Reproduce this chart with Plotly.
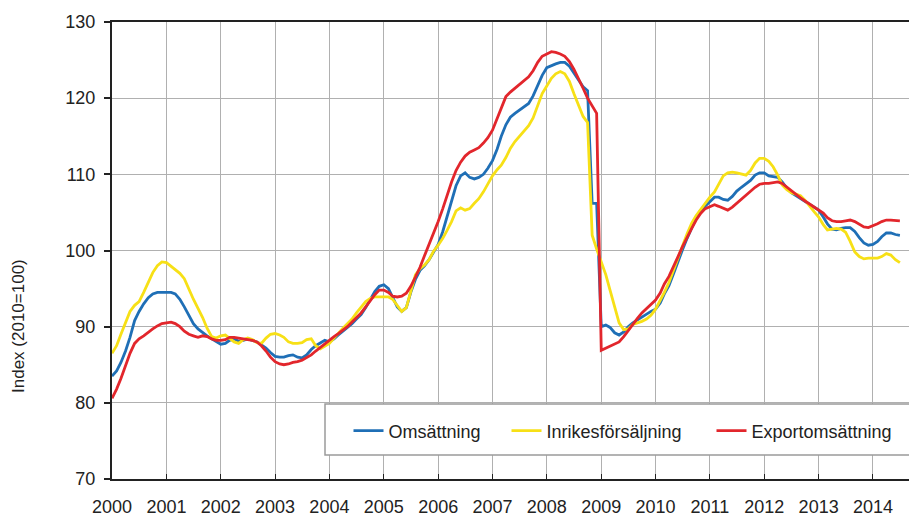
import pandas as pd
import plotly.graph_objects as go

months = pd.date_range("2000-01-01", periods=175, freq="MS")

omsattning = [
    83.5, 84.2, 85.3, 86.8, 88.6, 90.8, 92.0, 93.0, 93.8, 94.3, 94.5, 94.5,
    94.5, 94.5, 94.3, 93.6, 92.6, 91.4, 90.4, 89.7, 89.2, 88.8, 88.4, 88.0,
    87.7, 87.8, 88.2, 88.4, 88.1, 88.2, 88.4, 88.2, 88.0, 87.6, 87.2, 86.6,
    86.1, 86.0, 86.0, 86.2, 86.3, 86.0, 85.9, 86.3, 87.0, 87.5, 87.8, 88.2,
    88.0, 88.4, 88.9, 89.4, 89.9, 90.4, 91.0, 91.6, 92.5, 93.5, 94.6, 95.3,
    95.5, 95.0, 93.8, 92.6, 92.0, 92.5, 94.5, 96.2, 97.4, 98.0, 98.8, 99.7,
    100.8, 102.5, 104.5, 106.7, 108.5, 109.8, 110.2, 109.6, 109.4, 109.6, 110.0, 110.8,
    111.8, 113.3, 115.0, 116.5, 117.5, 118.0, 118.4, 118.8, 119.3, 120.3, 121.8, 123.0,
    124.0, 124.3, 124.5, 124.7, 124.7, 124.2, 123.3, 122.4, 121.5, 121.0, 106.2, 106.2,
    90.0, 90.2, 89.9, 89.2, 88.9, 89.3, 90.0, 90.5, 90.9, 91.2, 91.6, 92.0,
    92.3, 93.1, 94.3, 95.4, 96.9, 98.6, 100.1, 101.6, 103.0, 104.3, 105.3, 105.9,
    106.4, 107.0, 107.0, 106.7, 106.6, 107.1, 107.8, 108.3, 108.7, 109.2, 109.9, 110.2,
    110.2, 109.8, 109.7, 109.6, 109.0, 108.2, 107.6, 107.2, 106.9, 106.5, 106.1, 105.7,
    105.3, 104.4, 103.5, 102.8, 102.7, 102.9, 103.0, 103.0, 102.5, 101.7, 101.0, 100.7,
    100.8, 101.2, 101.8, 102.3, 102.3, 102.1, 102.0,
]

inrikes = [
    86.5, 87.5, 89.0, 90.6, 92.0, 92.8, 93.3, 94.5, 95.9, 97.1, 98.0, 98.5,
    98.4, 97.9, 97.5, 97.0, 96.3, 94.8, 93.6, 92.4, 91.2, 89.8, 88.7, 88.5,
    88.8, 88.9, 88.5, 88.0, 87.8, 88.3, 88.5, 88.3, 87.9, 87.8, 88.5, 89.0,
    89.1, 88.9, 88.6, 88.0, 87.8, 87.8, 87.9, 88.3, 88.4, 87.5, 87.1, 87.5,
    87.8, 88.5, 89.2, 89.8, 90.4, 91.0, 91.8, 92.6, 93.3, 93.7, 93.9, 93.9,
    93.9, 93.9, 93.6, 92.8, 92.0, 92.5, 94.8, 96.8, 97.6, 98.1, 98.8, 99.9,
    100.7, 101.6, 102.6, 103.8, 105.2, 105.6, 105.3, 105.5, 106.2, 106.8, 107.7, 108.8,
    109.8, 110.6, 111.2, 112.2, 113.4, 114.3, 115.0, 115.7, 116.4, 117.4, 118.9, 120.6,
    121.6, 122.6, 123.2, 123.5, 123.2, 122.2, 120.6, 119.0, 117.6, 116.8, 102.0, 100.2,
    98.6, 96.8, 94.8, 92.7, 90.5, 89.6, 89.7, 90.3, 90.5, 90.7, 91.0, 91.5,
    92.3, 93.4, 94.5, 95.8, 97.3, 99.0, 100.6, 102.2, 103.6, 104.6, 105.4, 106.3,
    107.0, 107.7, 108.8, 109.8, 110.2, 110.3, 110.2, 110.0, 109.9, 110.5, 111.5, 112.1,
    112.1, 111.7, 111.0, 109.9, 108.6, 108.0, 107.6, 107.4, 107.2, 106.6, 105.8, 105.1,
    104.4, 103.4, 102.7, 102.8, 102.9, 102.8, 102.4, 101.2, 99.8, 99.2, 98.9, 99.0,
    99.0, 99.0, 99.2, 99.6, 99.4, 98.8, 98.4,
]

export = [
    80.6, 81.8, 83.2, 84.8, 86.5, 87.8, 88.4, 88.8, 89.3, 89.7, 90.1, 90.4,
    90.5, 90.6, 90.4, 90.0, 89.4, 89.0, 88.8, 88.6, 88.8, 88.7, 88.4, 88.2,
    88.2, 88.3, 88.6, 88.6, 88.5, 88.4, 88.3, 88.2, 88.0, 87.5, 86.8, 86.0,
    85.4, 85.1, 85.0, 85.1, 85.3, 85.4, 85.6, 85.9, 86.3, 86.8, 87.3, 87.8,
    88.2, 88.7, 89.1, 89.5, 90.0, 90.6, 91.2, 91.8, 92.6, 93.4, 94.2, 94.8,
    94.8, 94.5, 94.0, 93.9, 94.0, 94.4, 95.3, 96.5, 97.8, 99.3, 100.8, 102.2,
    103.8, 105.5, 107.3, 109.0, 110.5, 111.6, 112.4, 112.9, 113.2, 113.5, 114.1, 114.8,
    115.8, 117.3, 118.8, 120.2, 120.8, 121.3, 121.7, 122.3, 122.8, 123.6, 124.7, 125.5,
    125.8, 126.1, 126.0, 125.8, 125.5, 124.8, 123.8, 122.6, 121.3, 120.0, 118.9, 118.0,
    86.9, 87.2, 87.5, 87.8, 88.0, 88.7, 89.5, 90.4, 91.1, 91.8, 92.4, 93.0,
    93.5, 94.4, 95.6, 96.6, 97.8, 99.2, 100.5, 101.8, 102.9, 104.0, 104.9, 105.5,
    105.8, 106.0, 105.8, 105.5, 105.3, 105.7, 106.2, 106.8, 107.3, 107.8, 108.3, 108.7,
    108.8, 108.8, 108.9, 109.0, 108.8, 108.3, 107.8, 107.3, 106.9, 106.5, 106.1, 105.8,
    105.4, 104.9, 104.3, 103.9, 103.8, 103.8, 103.9, 104.0, 103.8, 103.4, 103.1, 103.0,
    103.2, 103.5, 103.8, 104.0, 104.0, 103.9, 103.9,
]

series_names = ["Omsättning", "Inrikesförsäljning", "Exportomsättning"]
series_values = [omsattning, inrikes, export]
colors = ["#1f6fb6", "#f7e016", "#e2262c"]

year_ticks = [f"{y}-01-01" for y in range(2000, 2015)]
year_labels = [str(y) for y in range(2000, 2015)]

FONT = "Liberation Sans, Arial, sans-serif"

# page coordinates (body has an 8px margin); plot area spans x 112..917, y 22..479
PL, PR, PT, PB = 112, 917, 22, 479
PW, PH = PR - PL, PB - PT


def px(x):
    return (x - PL) / PW


def py(y):
    return (PB - y) / PH


legend_ids = ["legend", "legend2", "legend3"]
legend_left = [348.5, 506.5, 711.5]

fig = go.Figure()
for name, vals, col, lid in zip(series_names, series_values, colors, legend_ids):
    fig.add_trace(go.Scatter(x=months, y=vals, mode="lines", name=name, legend=lid,
                             line=dict(color=col, width=2.8)))

legend_common = dict(orientation="h", yanchor="middle", xanchor="left",
                     bgcolor="rgba(0,0,0,0)", borderwidth=0,
                     font=dict(family=FONT, size=18, color="#222222"))

fig.update_layout(
    width=909, height=508,
    margin=dict(l=PL - 8, r=0, t=PT - 8, b=508 - (PB - 8)),
    paper_bgcolor="white", plot_bgcolor="white",
    font=dict(family=FONT, size=18, color="#222222"),
    showlegend=True,
    legend=dict(x=px(legend_left[0]), y=py(431), **legend_common),
    legend2=dict(x=px(legend_left[1]), y=py(431), **legend_common),
    legend3=dict(x=px(legend_left[2]), y=py(431), **legend_common),
    xaxis=dict(type="date", range=["2000-01-01", "2014-10-24"],
               tickvals=year_ticks, ticktext=year_labels,
               ticks="inside", ticklen=5, tickwidth=1, tickcolor="#222222",
               showgrid=True, gridcolor="#b0b0b0", gridwidth=1.2,
               showline=True, linecolor="#222222", linewidth=2, mirror=True,
               zeroline=False, tickfont=dict(size=18), ticklabelstandoff=10),
    yaxis=dict(range=[70, 130], dtick=10, tick0=70,
               ticks="outside", ticklen=6, tickwidth=2, tickcolor="#222222",
               showgrid=True, gridcolor="#b0b0b0", gridwidth=1.2,
               showline=True, linecolor="#222222", linewidth=2,
               zeroline=False, tickfont=dict(size=18), ticklabelstandoff=5),
    shapes=[dict(type="rect", xref="paper", yref="paper", layer="above",
                 x0=px(325), x1=px(910), y0=py(455), y1=py(404),
                 line=dict(color="#9a9a9a", width=1.5), fillcolor="white")],
    annotations=[dict(text="Index (2010=100)", xref="paper", yref="paper",
                      x=px(18), y=py(326), showarrow=False,
                      textangle=-90, font=dict(family=FONT, size=17, color="#222222"),
                      xanchor="center", yanchor="middle")],
)

fig.write_html("out.html")
